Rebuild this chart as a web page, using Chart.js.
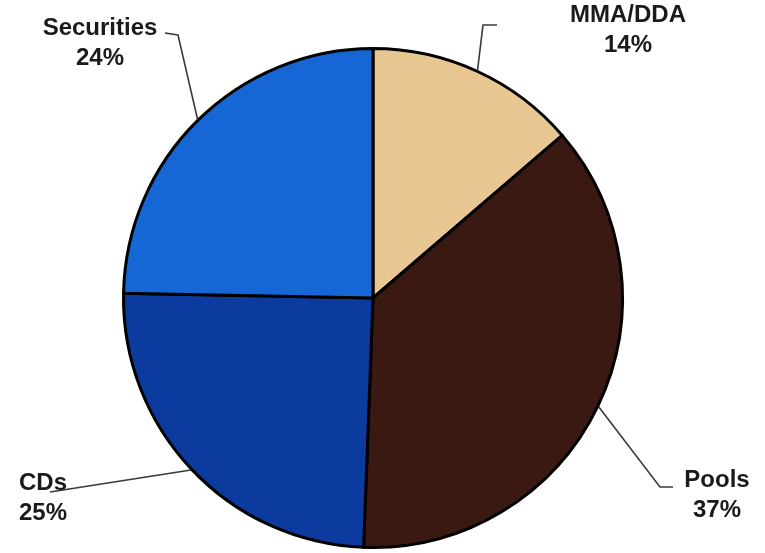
<!DOCTYPE html>
<html>
<head>
<meta charset="utf-8">
<script src="https://cdn.jsdelivr.net/npm/chart.js@4.4.1/dist/chart.umd.min.js"></script>
<style>
  html, body { margin: 0; padding: 0; background: #fff; }
  #wrap { width: 765px; height: 553px; }
</style>
</head>
<body>
<div id="wrap"><canvas id="pie"></canvas></div>
<script>
const categories = ['MMA/DDA', 'Pools', 'CDs', 'Securities'];
// slice sizes; printed percentages as labelled
const sliceSizes = [13.7, 36.9, 24.7, 24.7];
const shareLabels = ['14%', '37%', '25%', '24%'];
const sliceColors = ['#E8C793', '#3B1913', '#0B3B9E', '#1666D6'];

// where each label block sits (centre x, first baseline) and where its leader line bends
const labelSpots = [
  { x: 628, y: 22, bend: [[483, 25], [497, 25]] },
  { x: 717, y: 487, bend: [[660, 487], [673, 487]] },
  { x: 43, y: 490, bend: [[50, 492]] },
  { x: 100, y: 35, bend: [[178, 35], [165, 33]] },
];

const calloutPlugin = {
  id: 'callouts',
  afterDraw(chart) {
    const ctx = chart.ctx;
    const meta = chart.getDatasetMeta(0);
    ctx.save();
    meta.data.forEach((arc, i) => {
      const { x, y, startAngle, endAngle, outerRadius } = arc.getProps(['x', 'y', 'startAngle', 'endAngle', 'outerRadius'], true);
      const mid = (startAngle + endAngle) / 2;
      const ex = x + Math.cos(mid) * (outerRadius + 1);
      const ey = y + Math.sin(mid) * (outerRadius + 1);
      const spot = labelSpots[i];

      // leader line
      ctx.strokeStyle = '#3a3a3a';
      ctx.lineWidth = 1.6;
      ctx.beginPath();
      ctx.moveTo(ex, ey);
      spot.bend.forEach(p => ctx.lineTo(p[0], p[1]));
      ctx.stroke();

      // text
      ctx.fillStyle = '#1a1a1a';
      ctx.font = 'bold 24px "Liberation Sans", Arial, sans-serif';
      ctx.textAlign = 'center';
      ctx.textBaseline = 'alphabetic';
      ctx.fillText(categories[i], spot.x, spot.y);
      ctx.fillText(shareLabels[i], spot.x, spot.y + 30);
    });
    ctx.restore();
  },
};

new Chart(document.getElementById('pie'), {
  type: 'pie',
  data: {
    labels: categories,
    datasets: [{
      data: sliceSizes,
      backgroundColor: sliceColors,
      borderColor: '#000',
      borderWidth: 3,
      borderJoinStyle: 'miter',
    }],
  },
  options: {
    responsive: true,
    maintainAspectRatio: false,
    animation: false,
    events: [],
    layout: {
      padding: { left: 122, right: 141, top: 47, bottom: 4 },
    },
    plugins: {
      legend: { display: false },
      tooltip: { enabled: false },
    },
  },
  plugins: [calloutPlugin],
});
</script>
</body>
</html>
